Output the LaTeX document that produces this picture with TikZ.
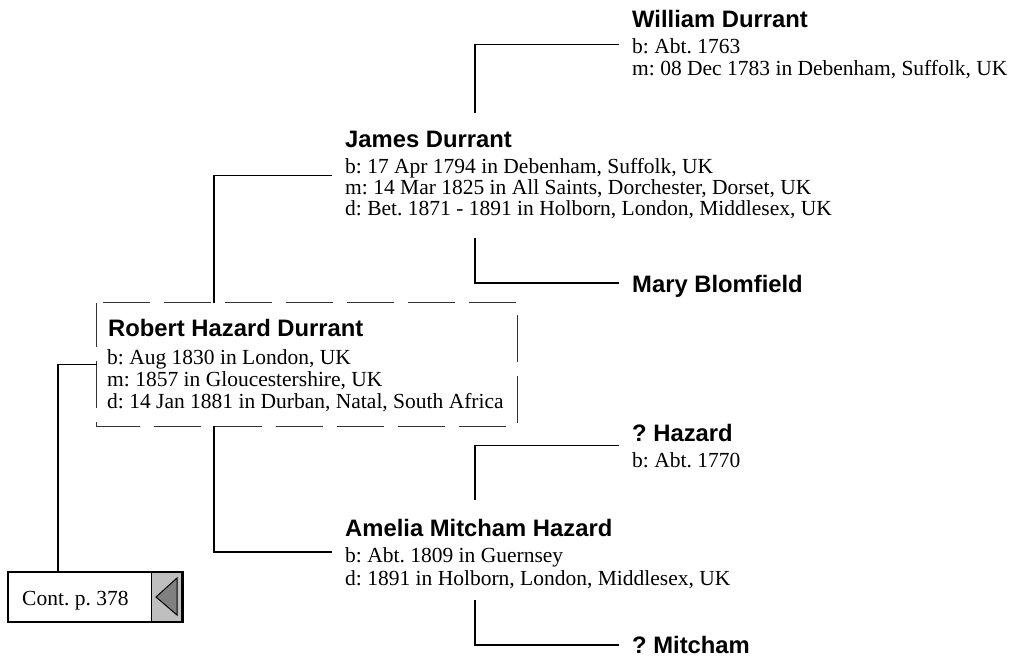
\documentclass[tikz,border=0pt]{standalone}
\usepackage{fontspec}
\setmainfont{Liberation Serif}
\newfontfamily\namefont{Liberation Sans}
\frenchspacing
\begin{document}
\begin{tikzpicture}[x=1pt,y=-1pt,
  nm/.style={anchor=base west, inner sep=0pt, font=\namefont\bfseries\fontsize{23.8}{27}\selectfont},
  dt/.style={anchor=base west, inner sep=0pt, font=\fontsize{21.5}{25}\selectfont},
  conn/.style={line width=1.3pt, black},
  dashbox/.style={line width=0.9pt, black!80, dash pattern=on 47pt off 14pt, dash phase=55pt}]
\useasboundingbox[fill=white] (0,0) rectangle (1012,662);

% William Durrant
\node[nm] (wd) at (632,27) {William Durrant};
\node[dt] (wd1) at (632,53) {b: Abt. 1763};
\node[dt] (wd2) at (632,75) {m: 08 Dec 1783 in Debenham, Suffolk, UK};

% James Durrant
\node[nm] (jd) at (345,147) {James Durrant};
\node[dt] (jd1) at (345,173) {b: 17 Apr 1794 in Debenham, Suffolk, UK};
\node[dt] (jd2) at (345,194) {m: 14 Mar 1825 in All Saints, Dorchester, Dorset, UK};
\node[dt] (jd3) at (345,215) {d: Bet. 1871 - 1891 in Holborn, London, Middlesex, UK};

% Mary Blomfield
\node[nm] (mb) at (632,292) {Mary Blomfield};

% Robert Hazard Durrant (dashed box)
\node[minimum width=420pt, minimum height=123pt, inner sep=0pt] (rbox) at (307,364.5) {};
\draw[dashbox] (rbox.north west) -- (rbox.north east) -- (rbox.south east) -- (rbox.south west) -- cycle;
\node[nm] (rd) at (108,336) {Robert Hazard Durrant};
\node[dt] (rd1) at (107,364) {b: Aug 1830 in London, UK};
\node[dt] (rd2) at (107,386) {m: 1857 in Gloucestershire, UK};
\node[dt] (rd3) at (107,408) {d: 14 Jan 1881 in Durban, Natal, South Africa};

% ? Hazard
\node[nm] (qh) at (632,441) {? Hazard};
\node[dt] (qh1) at (632,467) {b: Abt. 1770};

% Amelia Mitcham Hazard
\node[nm] (am) at (345,536) {Amelia Mitcham Hazard};
\node[dt] (am1) at (345,562) {b: Abt. 1809 in Guernsey};
\node[dt] (am2) at (345,585) {d: 1891 in Holborn, London, Middlesex, UK};

% ? Mitcham
\node[nm] (qm) at (632,653) {? Mitcham};

% Cont. box
\node[draw, line width=1.5pt, minimum width=175pt, minimum height=50pt, inner sep=0pt] (cont) at (95.5,597) {};
\node[draw, line width=1pt, fill=black!25, minimum width=30pt, minimum height=48.5pt, inner sep=0pt] (contbtn) at (166.5,597) {};
\node[dt] (conttxt) at (22,605) {Cont. p. 378};
\draw[line width=1pt, fill=black!50] (156,597) -- (177,578) -- (177,615) -- cycle;

% Connectors
\coordinate (colA) at (214,0);
\coordinate (colB) at (58,0);
\coordinate (wA) at (619,44.5);
\coordinate (wB) at (475,113);
\coordinate (jA) at (332,175.5);
\coordinate (mA) at (475,238);
\coordinate (mB) at (619,283);
\coordinate (aA) at (332,552);
\coordinate (hA) at (619,445.5);
\coordinate (hB) at (475,500);
\coordinate (qA) at (475,600);
\coordinate (qB) at (619,645);

\draw[conn] (wA) -| (wB);
\draw[conn] (jA) -| (colA |- rbox.north);
\draw[conn] (mA) |- (mB);
\draw[conn] (colA |- rbox.south) |- (aA);
\draw[conn] (hA) -| (hB);
\draw[conn] (qA) |- (qB);
\draw[conn] (rbox.west) -| (colB |- cont.north);
\end{tikzpicture}
\end{document}
